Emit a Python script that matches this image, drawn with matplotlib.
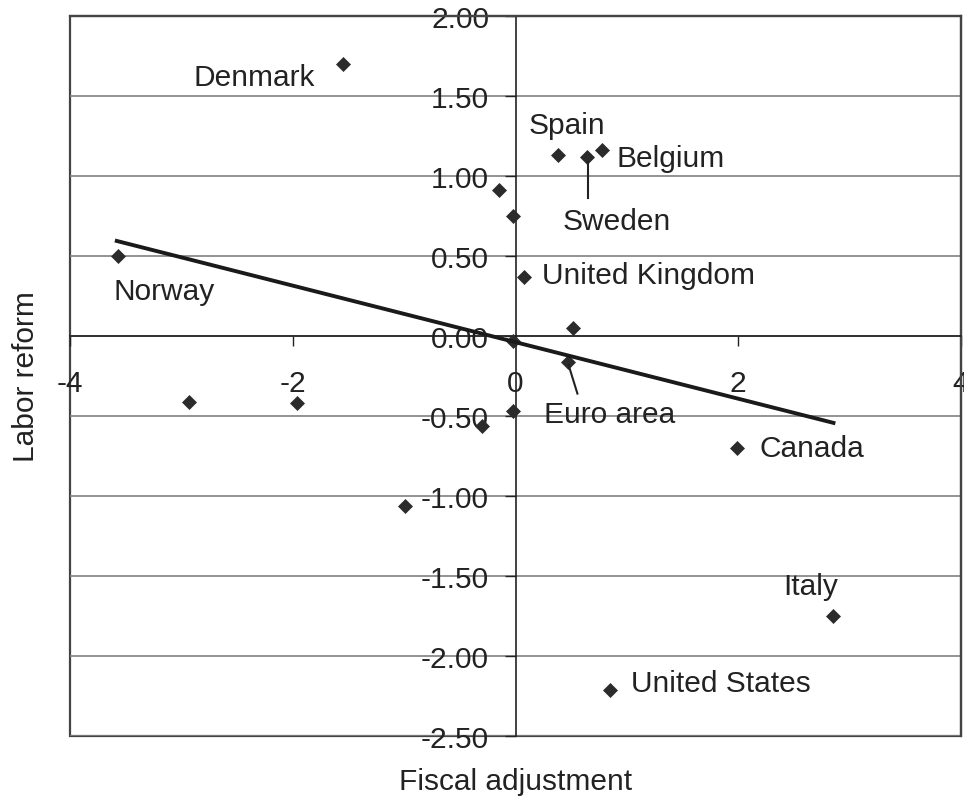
import matplotlib.pyplot as plt
from matplotlib.ticker import FormatStrFormatter
from matplotlib.patches import Rectangle

# valores
paises = ['Denmark', 'Spain', 'Sweden', 'Belgium', '', '', 'United Kingdom', 'Norway',
          '', '', 'Euro area', '', '', '', '', 'Canada', '', 'Italy', 'United States']
ajuste_fiscal = [-1.55, 0.38, 0.64, 0.78, -0.15, -0.02, 0.075, -3.57,
                 0.52, -0.02, 0.47, -0.02, -0.30, -2.93, -1.96, 1.985, -0.99, 2.85, 0.85]
reforma_trab = [1.70, 1.13, 1.12, 1.16, 0.91, 0.75, 0.37, 0.50,
                0.05, -0.03, -0.16, -0.47, -0.56, -0.41, -0.42, -0.70, -1.06, -1.75, -2.21]

# linha de tendencia (pontas)
tend_x = [-3.58, 2.855]
tend_y = [0.594, -0.543]

x_ticks = [-4, -2, 0, 2, 4]
y_ticks = [-2.5, -2.0, -1.5, -1.0, -0.5, 0.0, 0.5, 1.0, 1.5, 2.0]

# onde fica cada rotulo (x, y, alinhamento horizontal)
rotulos = {
    'Denmark': (-2.89, 1.62, 'left'),
    'Spain': (0.12, 1.32, 'left'),
    'Sweden': (0.42, 0.72, 'left'),
    'Belgium': (0.91, 1.11, 'left'),
    'United Kingdom': (0.24, 0.38, 'left'),
    'Norway': (-3.61, 0.28, 'left'),
    'Euro area': (0.26, -0.49, 'left'),
    'Canada': (2.19, -0.70, 'left'),
    'Italy': (2.65, -1.565, 'center'),
    'United States': (1.04, -2.17, 'left'),
}

plt.rcParams['font.family'] = ['Liberation Sans', 'DejaVu Sans']
plt.rcParams['axes.unicode_minus'] = False

fig = plt.figure(figsize=(9.64, 8.03), dpi=100)
ax = fig.add_axes([70 / 964, 1 - 737 / 803, (961 - 70) / 964, (737 - 17) / 803])

ax.set_xlim(-4, 4)
ax.set_ylim(-2.5, 2)
ax.set_xticks(x_ticks)
ax.set_yticks(y_ticks)
ax.yaxis.set_major_formatter(FormatStrFormatter('%.2f'))
ax.yaxis.grid(True, color='#808080', linewidth=1.2)
ax.set_axisbelow(True)

# eixos cruzando no zero, como no Excel
ax.spines['left'].set_position(('data', 0))
ax.spines['bottom'].set_position(('data', 0))
for lado in ['left', 'bottom']:
    ax.spines[lado].set_color('#222222')
    ax.spines[lado].set_linewidth(1.2)
for lado in ['top', 'right']:
    ax.spines[lado].set_color('#444444')
    ax.spines[lado].set_linewidth(1.6)
ax.add_patch(Rectangle((0, 0), 1, 1, transform=ax.transAxes, fill=False,
                       edgecolor='#444444', linewidth=1.6, zorder=0.5, clip_on=False))

ax.tick_params(axis='x', direction='out', length=7, width=1, pad=17, labelsize=21.5, colors='#222222')
ax.tick_params(axis='y', direction='out', length=8, width=1, pad=11, labelsize=21.5, colors='#222222')

ax.plot(ajuste_fiscal, reforma_trab, linestyle='none', marker='D', markersize=6.8,
        color='#2b2b2b', markeredgewidth=0.5, zorder=3)
ax.plot(tend_x, tend_y, color='#1a1a1a', linewidth=2.8, zorder=4)

# pequenas linhas de chamada
ax.plot([0.65, 0.65], [1.09, 0.86], color='#222222', linewidth=1.5, zorder=3)
ax.plot([0.476, 0.556], [-0.18, -0.36], color='#222222', linewidth=1.5, zorder=3)

for nome in paises:
    if nome == '':
        continue
    tx, ty, ha = rotulos[nome]
    ax.text(tx, ty, nome, fontsize=21.5, ha=ha, va='center', color='#222222', zorder=5)

fig.text(516 / 964, 1 - 782 / 803, 'Fiscal adjustment', fontsize=21.5, ha='center', va='center', color='#222222')
fig.text(26 / 964, 1 - 377 / 803, 'Labor reform', fontsize=21.5, ha='center', va='center',
         rotation=90, color='#222222')

plt.savefig('out.png', dpi=100)
